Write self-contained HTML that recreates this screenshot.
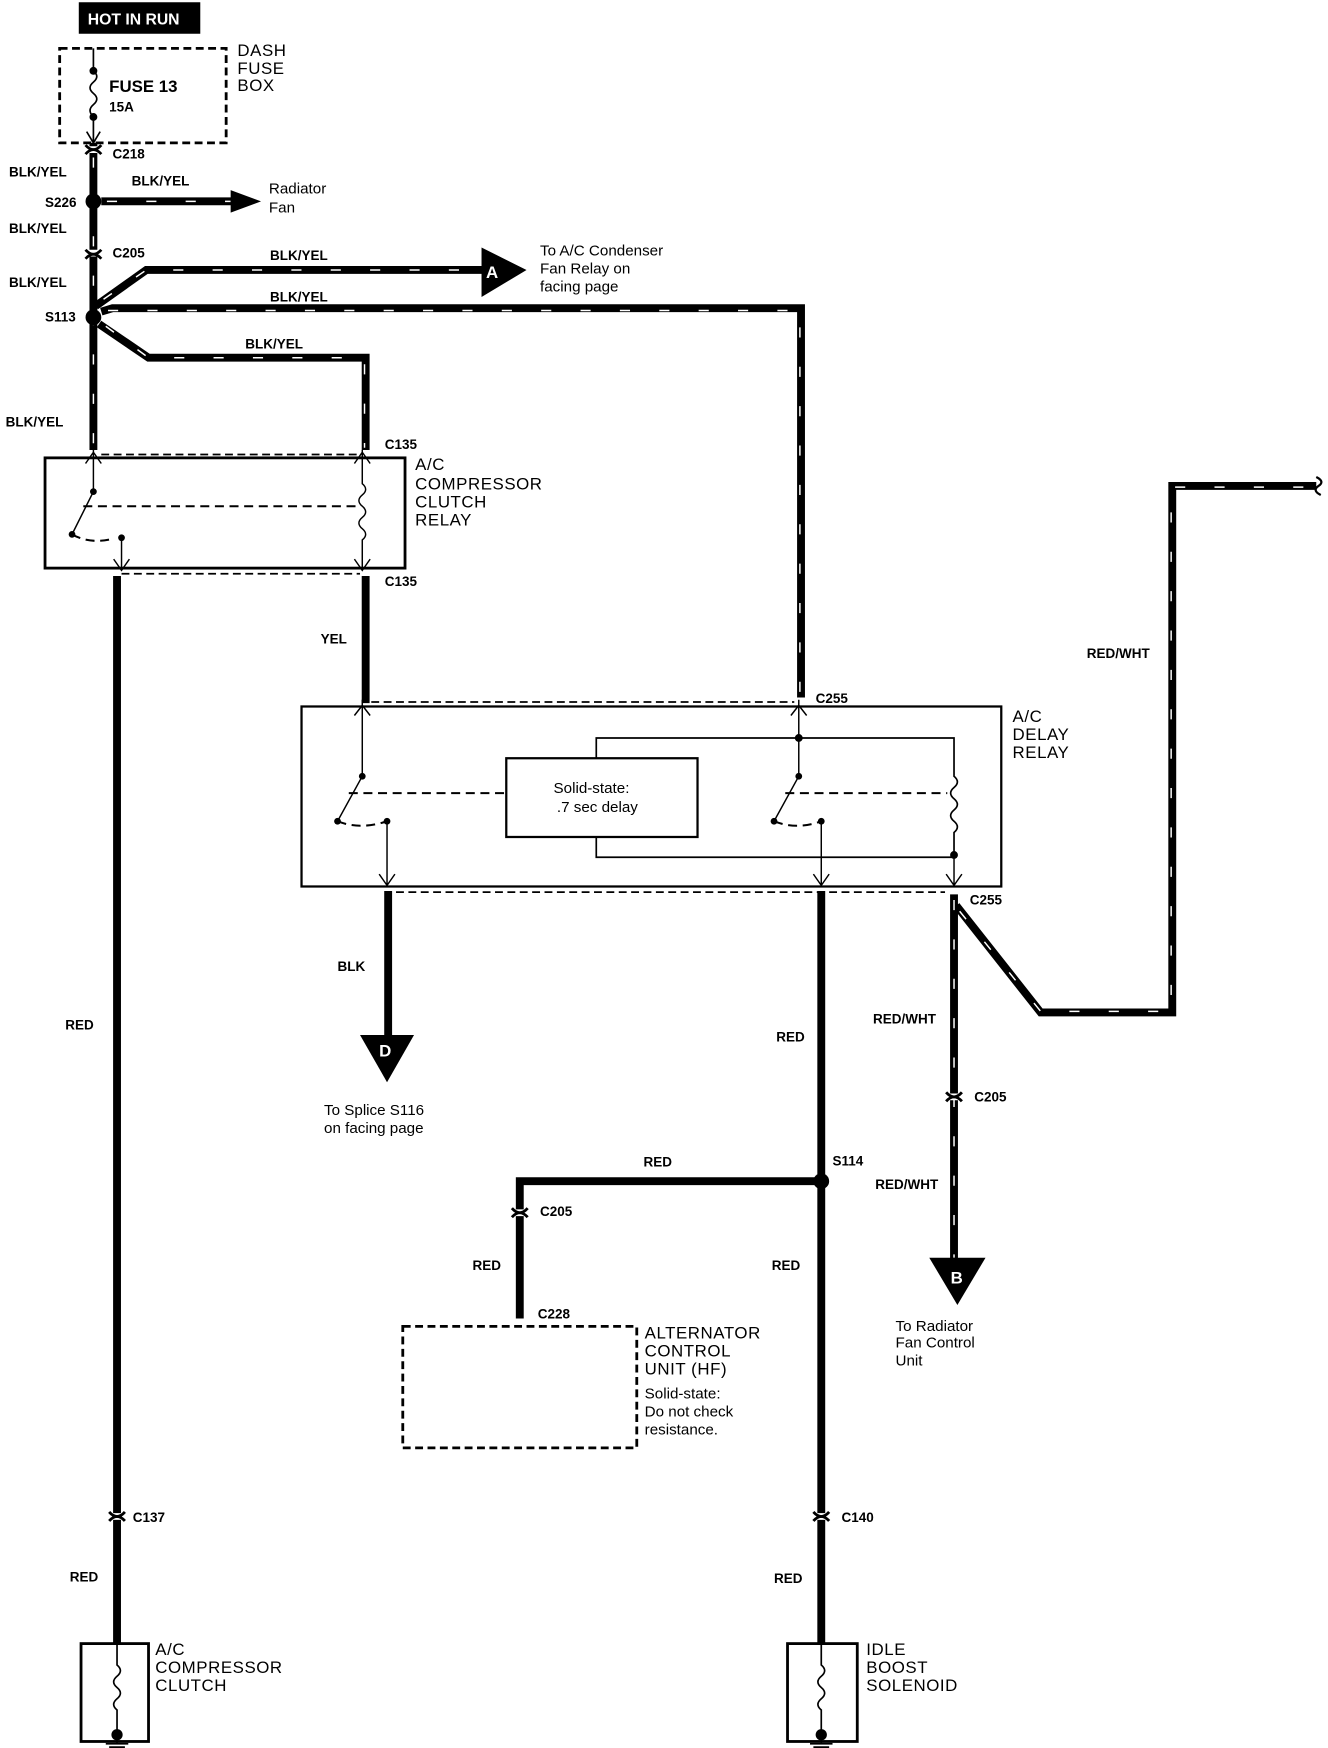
<!DOCTYPE html>
<html><head><meta charset="utf-8"><style>
html,body{margin:0;padding:0;background:#fff}
svg{display:block}
text{font-family:"Liberation Sans",sans-serif;fill:#000}
.b{font-weight:bold;font-size:12px}
.n{font-size:13.5px}
.h{font-size:15px;letter-spacing:0.5px}
</style></head><body>
<svg width="1328" height="1748" viewBox="0 0 1180.4 1553.8" xmlns="http://www.w3.org/2000/svg">
<defs>
<g id="conn"><path d="M-7,-6 Q0,2 7,-6" fill="none" stroke="#000" stroke-width="2.5"/><path d="M-7,2 Q0,-6 7,2" fill="none" stroke="#000" stroke-width="2.5"/></g>
</defs>
<g fill="none" stroke-linejoin="miter">
<g stroke="#000" stroke-width="7">
<path d="M83,127 V400"/>
<path d="M90,179 H208"/>
<path d="M85,272 L130,240 H432"/>
<path d="M90,277 L100,274 H712 V620"/>
<path d="M88,288 L132,318 H325 V400"/>
<path d="M848,795 V1122"/>
<path d="M850,805 L925,900 H1042 V432 H1170"/>
</g>
<g stroke="#fff" stroke-width="1.3" stroke-dasharray="9 26">
<path d="M83,140 V398"/>
<path d="M95,179 H205"/>
<path d="M92,266 L130,240 H430"/>
<path d="M96,276 H711 V618"/>
<path d="M94,290 L132,318 H324 V398"/>
<path d="M848,800 V1118"/>
<path d="M853,810 L925,899 H1041 V433 H1168"/>
</g>
<g stroke="#000" stroke-width="7">
<path d="M104,512 V1462"/>
<path d="M325,512 V625"/>
<path d="M345,792 V922"/>
<path d="M730,792 V1462"/>
<path d="M725,1050 H462 V1172"/>
</g>
</g>
<path d="M205,169 L232,179 L205,189 Z" fill="#000"/>
<path d="M428,220 L468,240 L428,264 Z" fill="#000"/>
<text x="432" y="247" class="b" style="fill:#fff;font-size:15px">A</text>
<path d="M320,920 L368,920 L344,962 Z" fill="#000"/>
<text x="337" y="939" class="b" style="fill:#fff;font-size:15px">D</text>
<path d="M826,1118 L876,1118 L851,1160 Z" fill="#000"/>
<text x="845" y="1141" class="b" style="fill:#fff;font-size:15px">B</text>
<path d="M1170,424 Q1178,428 1172,432 Q1166,436 1174,440" fill="none" stroke="#000" stroke-width="2"/>
<circle cx="83" cy="179" r="7"/>
<circle cx="83" cy="282" r="7"/>
<circle cx="730" cy="1050" r="7"/>
<g fill="#fff"><rect x="76" y="130" width="14" height="6"/><rect x="76" y="222" width="14" height="6"/><rect x="97" y="1345" width="14" height="6"/><rect x="723" y="1345" width="14" height="6"/><rect x="841" y="972" width="14" height="6"/><rect x="455" y="1075" width="14" height="6"/></g>
<use href="#conn" x="83" y="135"/><use href="#conn" x="83" y="228"/>
<use href="#conn" x="104" y="1350"/><use href="#conn" x="730" y="1350"/>
<use href="#conn" x="848" y="977"/><use href="#conn" x="462" y="1080"/>
<rect x="70" y="2" width="108" height="28" fill="#000"/>
<text x="78" y="22" class="b" style="fill:#fff;font-size:14px">HOT IN RUN</text>
<rect x="53" y="43" width="148" height="84" fill="none" stroke="#000" stroke-width="2.5" stroke-dasharray="7 4"/>
<path d="M83,43 V63 M83,104 V127 M83,63 q6,5 0,10 q-6,5 0,10 q6,5 0,10 q-6,5 0,11" fill="none" stroke="#000" stroke-width="1.5"/>
<circle cx="83" cy="63" r="3.5"/><circle cx="83" cy="104" r="3.5"/>
<path d="M77,117 L83,127 L89,117" fill="none" stroke="#000" stroke-width="1.5"/>
<text x="97" y="82" class="b" style="font-size:15px">FUSE 13</text>
<text x="97" y="99" class="b">15A</text>
<text x="211" y="50" class="h">DASH</text><text x="211" y="66" class="h">FUSE</text><text x="211" y="81" class="h">BOX</text>
<text x="100" y="141" class="b">C218</text>
<text x="8" y="157" class="b">BLK/YEL</text>
<text x="117" y="165" class="b">BLK/YEL</text>
<text x="40" y="184" class="b">S226</text>
<text x="239" y="172" class="n">Radiator</text><text x="239" y="189" class="n">Fan</text>
<text x="8" y="207" class="b">BLK/YEL</text>
<text x="100" y="229" class="b">C205</text>
<text x="240" y="231" class="b">BLK/YEL</text>
<text x="480" y="227" class="n">To A/C Condenser</text><text x="480" y="243" class="n">Fan Relay on</text><text x="480" y="259" class="n">facing page</text>
<text x="8" y="255" class="b">BLK/YEL</text>
<text x="240" y="268" class="b">BLK/YEL</text>
<text x="40" y="286" class="b">S113</text>
<text x="218" y="310" class="b">BLK/YEL</text>
<text x="5" y="379" class="b">BLK/YEL</text>
<text x="342" y="399" class="b">C135</text>
<path d="M90,404 H318 M108,510 H320" stroke="#000" stroke-width="1.5" stroke-dasharray="7 4"/>
<rect x="40" y="407" width="320" height="98" fill="none" stroke="#000" stroke-width="2.5"/>
<g fill="none" stroke="#000" stroke-width="1.3">
<path d="M83,400 V408 M76,412 L83,402 L90,412"/>
<path d="M322,400 V408 M315,412 L322,402 L329,412"/>
<path d="M83,408 V437 L64,475"/>
<path d="M74,450 H320 M64,475 Q80,484 100,479" stroke-width="1.8" stroke-dasharray="8 5"/>
<path d="M108,478 V505 M101,497 L108,507 L115,497"/>
<path d="M322,408 V430 q6,5 0,10 q-6,5 0,10 q6,5 0,10 q-6,5 0,10 q6,5 0,10 V505 M315,497 L322,507 L329,497"/>
</g>
<circle cx="83" cy="437" r="3"/><circle cx="64" cy="475" r="3"/><circle cx="108" cy="478" r="3"/>
<text x="369" y="418" class="h">A/C</text><text x="369" y="435" class="h">COMPRESSOR</text><text x="369" y="451" class="h">CLUTCH</text><text x="369" y="467" class="h">RELAY</text>
<text x="342" y="521" class="b">C135</text>
<text x="285" y="572" class="b">YEL</text>
<text x="58" y="915" class="b">RED</text>
<path d="M330,624 H706 M352,793 H840" stroke="#000" stroke-width="1.5" stroke-dasharray="7 4"/>
<text x="725" y="625" class="b">C255</text>
<rect x="268" y="628" width="622" height="160" fill="none" stroke="#000" stroke-width="2"/>
<text x="900" y="642" class="h">A/C</text><text x="900" y="658" class="h">DELAY</text><text x="900" y="674" class="h">RELAY</text>
<g fill="none" stroke="#000" stroke-width="1.3">
<path d="M322,622 V690 L300,730 M315,636 L322,627 L329,636"/>
<path d="M310,705 H450 M300,730 Q320,738 344,730" stroke-width="1.8" stroke-dasharray="8 5"/>
<path d="M344,730 V786 M337,777 L344,787 L351,777"/>
<path d="M710,622 V690 L688,730 M703,636 L710,627 L717,636"/>
<path d="M698,705 H842 M688,730 Q708,738 730,730" stroke-width="1.8" stroke-dasharray="8 5"/>
<path d="M730,730 V786 M723,777 L730,787 L737,777"/>
<path d="M848,760 V786 M841,777 L848,787 L855,777"/>
</g>
<path d="M530,674 V656 H848 V690 q6,5 0,10 q-6,5 0,10 q6,5 0,10 q-6,5 0,10 q6,5 0,10 V762 H530 V744" fill="none" stroke="#000" stroke-width="1.5"/>
<rect x="450" y="674" width="170" height="70" fill="#fff" stroke="#000" stroke-width="2"/>
<text x="492" y="705" class="n">Solid-state:</text><text x="495" y="722" class="n">.7 sec delay</text>
<circle cx="322" cy="690" r="3"/><circle cx="300" cy="730" r="3"/><circle cx="344" cy="730" r="3"/>
<circle cx="710" cy="656" r="3.5"/><circle cx="710" cy="690" r="3"/><circle cx="688" cy="730" r="3"/><circle cx="730" cy="730" r="3"/><circle cx="848" cy="760" r="3.5"/>
<text x="862" y="804" class="b">C255</text>
<text x="300" y="863" class="b">BLK</text>
<text x="288" y="991" class="n">To Splice S116</text><text x="288" y="1007" class="n">on facing page</text>
<text x="966" y="585" class="b">RED/WHT</text>
<text x="776" y="910" class="b">RED/WHT</text>
<text x="690" y="926" class="b">RED</text>
<text x="866" y="979" class="b">C205</text>
<text x="740" y="1036" class="b">S114</text>
<text x="572" y="1037" class="b">RED</text>
<text x="778" y="1057" class="b">RED/WHT</text>
<text x="480" y="1081" class="b">C205</text>
<text x="420" y="1129" class="b">RED</text>
<text x="686" y="1129" class="b">RED</text>
<text x="796" y="1183" class="n">To Radiator</text><text x="796" y="1198" class="n">Fan Control</text><text x="796" y="1214" class="n">Unit</text>
<text x="478" y="1172" class="b">C228</text>
<rect x="358" y="1179" width="208" height="108" fill="none" stroke="#000" stroke-width="2.5" stroke-dasharray="7 4"/>
<text x="573" y="1190" class="h">ALTERNATOR</text><text x="573" y="1206" class="h">CONTROL</text><text x="573" y="1222" class="h">UNIT (HF)</text>
<text x="573" y="1243" class="n">Solid-state:</text><text x="573" y="1259" class="n">Do not check</text><text x="573" y="1275" class="n">resistance.</text>
<text x="118" y="1353" class="b">C137</text><text x="748" y="1353" class="b">C140</text>
<text x="62" y="1406" class="b">RED</text><text x="688" y="1407" class="b">RED</text>
<g fill="none" stroke="#000">
<rect x="72" y="1461" width="60" height="87" stroke-width="2.5"/>
<rect x="700" y="1461" width="62" height="87" stroke-width="2.5"/>
<path d="M104,1461 V1480 q6,5 0,10 q-6,5 0,10 q6,5 0,10 q-6,5 0,10 V1540 M730,1461 V1480 q6,5 0,10 q-6,5 0,10 q6,5 0,10 q-6,5 0,10 V1540" stroke-width="1.5"/>
<path d="M104,1540 V1550 M94,1550 H114 M97,1553 H111 M730,1540 V1550 M720,1550 H740 M723,1553 H737" stroke-width="1.5"/>
</g>
<circle cx="104" cy="1542" r="5"/><circle cx="730" cy="1542" r="5"/>
<text x="138" y="1471" class="h">A/C</text><text x="138" y="1487" class="h">COMPRESSOR</text><text x="138" y="1503" class="h">CLUTCH</text>
<text x="770" y="1471" class="h">IDLE</text><text x="770" y="1487" class="h">BOOST</text><text x="770" y="1503" class="h">SOLENOID</text>
</svg>
</body></html>
